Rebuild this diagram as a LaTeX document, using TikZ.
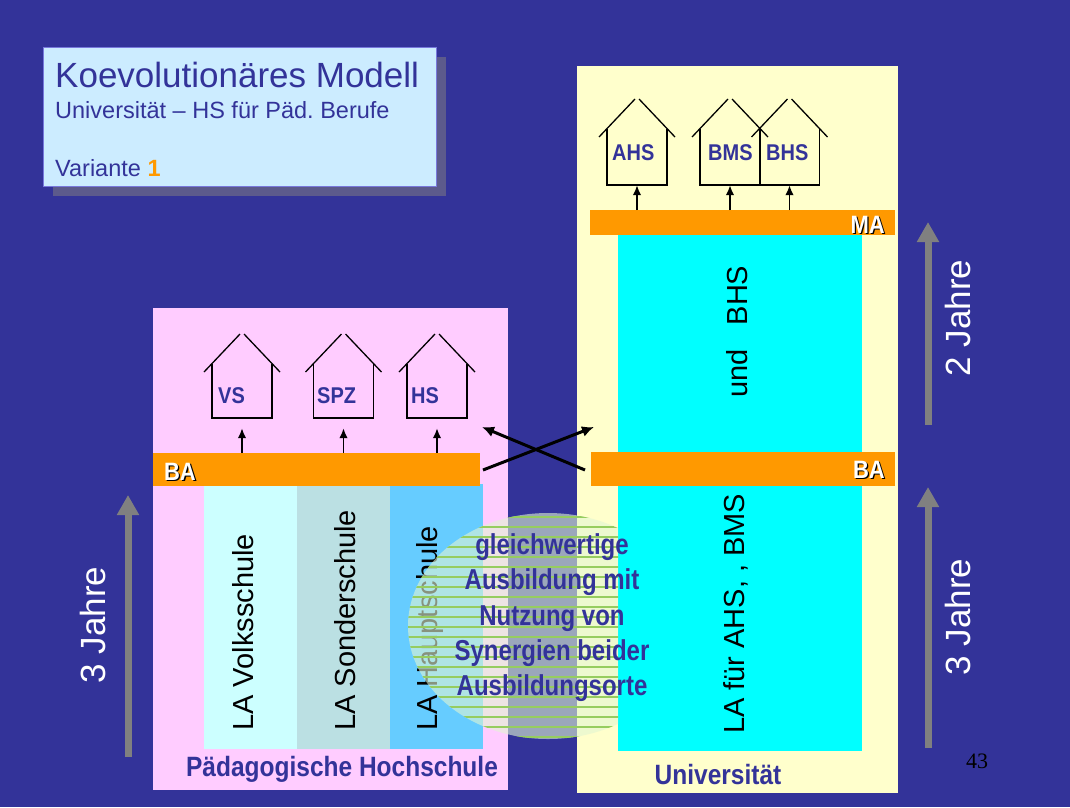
\documentclass[tikz,border=0pt]{standalone}
\usepackage{fontspec}
\setmainfont{Liberation Sans}
\newfontfamily\seriffont{Liberation Serif}
\usetikzlibrary{arrows.meta,shapes.geometric,patterns.meta}
\frenchspacing

\definecolor{bgblue}{RGB}{51,51,153}
\definecolor{textblue}{RGB}{51,51,153}
\definecolor{titlefill}{RGB}{204,236,255}
\definecolor{titleborder}{RGB}{120,120,220}
\definecolor{shadowc}{RGB}{92,90,140}
\definecolor{pinkbg}{RGB}{255,204,255}
\definecolor{yellowbg}{RGB}{255,255,204}
\definecolor{barorange}{RGB}{255,153,0}
\definecolor{cyanc}{RGB}{0,255,255}
\definecolor{colvs}{RGB}{204,255,255}
\definecolor{colspz}{RGB}{187,224,227}
\definecolor{colhs}{RGB}{102,204,255}
\definecolor{arrowgrey}{RGB}{128,128,128}
\definecolor{patgreen}{RGB}{150,205,95}
\definecolor{ellfill}{RGB}{225,245,210}

\newcommand{\tallb}[2][1.14]{\scalebox{1}[#1]{#2}}

\tikzset{
  houseline/.style={draw=black, line width=1.3pt},
  hbody/.style={rectangle, minimum width=60pt, minimum height=#1, inner sep=0pt},
  hlabel/.style={anchor=west, inner sep=0pt, text=textblue, font=\fontsize{20}{24}\selectfont\bfseries},
  uparrow/.style={line width=1.7pt, -{Latex[length=10pt,width=8.5pt]}},
  crossarrow/.style={line width=3pt, -{Latex[length=12pt,width=11pt]}},
  yeararrow/.style={draw=arrowgrey, line width=7pt, -{Triangle[length=20pt,width=21pt]}},
  yeartext/.style={rotate=90, text=white, font=\fontsize{35}{40}\selectfont, inner sep=0pt},
  coltext/.style={rotate=90, anchor=west, inner sep=0pt, font=\fontsize{29}{34}\selectfont},
  bartext/.style={inner sep=0pt, font=\fontsize{22}{26}\selectfont\bfseries},
  footlabel/.style={text=textblue, font=\fontsize{24.5}{29}\selectfont\bfseries, inner sep=0pt},
  barbox/.style={rectangle, fill=barorange, anchor=north west, inner sep=0pt},
  areabox/.style={rectangle, anchor=north west, inner sep=0pt},
  pics/house/.style={code={
    \node[hbody=#1] (-body) at (0,#1/2) {};
    \draw[houseline] (-38,8) -- (-2,-30) (2,-30) -- (38,8);
    \draw[houseline] (-30,0) -- (-30,#1) -- (30,#1) -- (30,0);
  }},
}

\begin{document}
\begin{tikzpicture}[x=1pt,y=-1pt]
\useasboundingbox (0,0) rectangle (1070,807);
\fill[bgblue] (0,0) rectangle (1070,807);

% title box
\node[areabox, fill=shadowc, minimum width=393pt, minimum height=139pt] (tshadow) at (53,57) {};
\node[areabox, fill=titlefill, draw=titleborder, line width=0.8pt, minimum width=393pt, minimum height=139pt] (tbox) at (43,47) {};
\node[anchor=base west, inner sep=0pt, text=textblue, font=\fontsize{35}{40}\selectfont] (title) at (55,87) {Koevolutionäres Modell};
\node[anchor=base west, inner sep=0pt, text=textblue, font=\fontsize{23.5}{28}\selectfont] (subtitle) at (55,118) {Universität – HS für Päd. Berufe};
\node[anchor=base west, inner sep=0pt, text=textblue, font=\fontsize{23.5}{28}\selectfont] (variant) at (55,176) {Variante \textcolor{barorange}{\bfseries 1}};

% areas
\node[areabox, fill=pinkbg, minimum width=355pt, minimum height=482pt] (ph) at (153,308) {};
\node[areabox, fill=yellowbg, minimum width=321pt, minimum height=727pt] (uni) at (577,66) {};

% PH columns
\node[areabox, fill=colvs, minimum width=93pt, minimum height=263pt] (colvs) at (204,486) {};
\node[areabox, fill=colspz, minimum width=93pt, minimum height=263pt] (colspz) at (297,486) {};
\node[areabox, fill=colhs, minimum width=93pt, minimum height=265pt] (colhs) at (390,484) {};
\node[barbox, minimum width=327pt, minimum height=33pt] (baL) at (153,453) {};

% Uni columns
\node[areabox, fill=cyanc, minimum width=244pt, minimum height=217pt] (cyanup) at (618,235) {};
\node[areabox, fill=cyanc, minimum width=244pt, minimum height=265pt] (cyanlow) at (618,486) {};
\node[barbox, minimum width=305pt, minimum height=25pt] (ma) at (590,210) {};
\node[barbox, minimum width=304pt, minimum height=34pt] (baR) at (591,452) {};

% bar labels
\node[bartext, text=black] (baLs) at (181.3,473.3) {\tallb{BA}};
\node[bartext, text=white] (baLt) at (180,472) {\tallb{BA}};
\node[bartext, text=black, anchor=east] (baRs) at (886.3,471.3) {\tallb{BA}};
\node[bartext, text=white, anchor=east] (baRt) at (885,470) {\tallb{BA}};
\node[bartext, text=black, anchor=east] (mas) at (886.3,226.3) {\tallb{MA}};
\node[bartext, text=white, anchor=east] (mat) at (885,225) {\tallb{MA}};

% houses PH
\pic (vs) at (242,364) {house=54};
\pic (spz) at (343.5,364) {house=54};
\pic (hs) at (437,364) {house=54};
\node[hlabel] (vsl) at (218,396) {\tallb{VS}};
\node[hlabel] (spzl) at (317,396) {\tallb{SPZ}};
\node[hlabel] (hsl) at (411,396) {\tallb{HS}};
\draw[uparrow, shorten >=10pt] (baL.north -| vs-body.south) -- (vs-body.south);
\draw[uparrow, shorten >=10pt] (baL.north -| spz-body.south) -- (spz-body.south);
\draw[uparrow, shorten >=10pt] (baL.north -| hs-body.south) -- (hs-body.south);

% houses Uni
\pic (ahs) at (637,129) {house=56};
\pic (bms) at (730,129) {house=56};
\pic (bhs) at (789.5,129) {house=56};
\node[hlabel] (ahsl) at (612,153) {\tallb{AHS}};
\node[hlabel] (bmsl) at (708,153) {\tallb{BMS}};
\node[hlabel] (bhsl) at (766,153) {\tallb{BHS}};
\draw[uparrow] (ma.north -| ahs-body.south) -- (ahs-body.south);
\draw[uparrow] (ma.north -| bms-body.south) -- (bms-body.south);
\draw[uparrow] (ma.north -| bhs-body.south) -- (bhs-body.south);

% column texts
\node[coltext] (tvs) at (243,731) {LA Volksschule};
\node[coltext] (tspz) at (345,731) {LA Sonderschule};
\node[coltext] (ths) at (430,731) {LA Hauptschule};
\node[coltext] (tuni) at (736,734) {LA für AHS, , BMS};
\node[coltext] (tuni2) at (737,398) {und\ \ \ BHS};

% cross arrows
\coordinate (c1s) at (483,470);
\coordinate (c1e) at (594,427);
\coordinate (c2s) at (585,470);
\coordinate (c2e) at (482,427);
\draw[crossarrow] (c1s) -- (c1e);
\draw[crossarrow] (c2s) -- (c2e);

% synergy ellipse
\begin{scope}
  \clip (0,0) rectangle (618,807);
  \node[ellipse, minimum width=280pt, minimum height=226pt, inner sep=0pt, fill=ellfill, fill opacity=0.6] (syn) at (548,626) {};
  \fill[pattern={Lines[distance=10pt,angle=0,line width=2.5pt]}, pattern color=patgreen, fill opacity=0.9] (syn.center) ellipse [x radius=140, y radius=113];
\end{scope}
\node[inner sep=0pt, text=textblue, font=\fontsize{24}{29.5}\selectfont\bfseries] (syntext) at (552,618) {\scalebox{1}[1.2]{\begin{tabular}{@{}c@{}}gleichwertige\\Ausbildung mit\\Nutzung von\\Synergien beider\\Ausbildungsorte\end{tabular}}};

% year arrows
\coordinate (ya1s) at (128,757);
\coordinate (ya1e) at (128,495);
\coordinate (ya2s) at (928,425);
\coordinate (ya2e) at (928,222);
\coordinate (ya3s) at (928,748);
\coordinate (ya3e) at (928,487);
\draw[yeararrow] (ya1s) -- (ya1e);
\draw[yeararrow] (ya2s) -- (ya2e);
\draw[yeararrow] (ya3s) -- (ya3e);
\node[yeartext] (y1) at (93,625) {3 Jahre};
\node[yeartext] (y2) at (958,318) {2 Jahre};
\node[yeartext] (y3) at (958,617) {3 Jahre};

% footers
\node[footlabel] (phl) at (342,769) {\tallb{Pädagogische Hochschule}};
\node[footlabel] (unil) at (718,775) {\tallb{Universität}};
\node[inner sep=0pt, font=\seriffont\fontsize{22}{26}\selectfont] (pagenum) at (977,761) {43};
\end{tikzpicture}
\end{document}
